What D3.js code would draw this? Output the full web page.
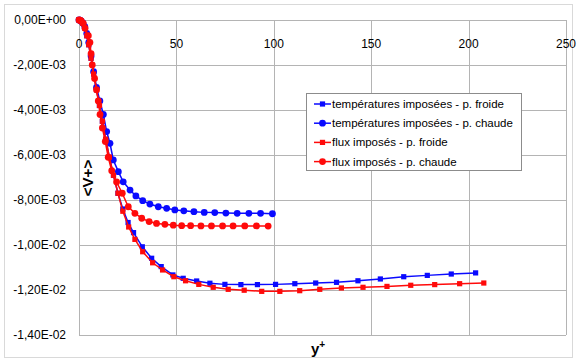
<!DOCTYPE html>
<html>
<head>
<meta charset="utf-8">
<script src="https://cdn.jsdelivr.net/npm/d3@7"></script>
<style>
  html, body { margin: 0; padding: 0; background: #fff; }
  svg { display: block; font-family: "Liberation Sans", Arial, sans-serif; }
</style>
</head>
<body>
<svg id="chart" width="577" height="361"></svg>
<script>
// Mean wall-normal velocity profiles <V+> versus y+
const xTicks = [0, 50, 100, 150, 200, 250];
const yTicks = [0, -0.002, -0.004, -0.006, -0.008, -0.010, -0.012, -0.014];
const yTickLabels = ["0,00E+00", "-2,00E-03", "-4,00E-03", "-6,00E-03", "-8,00E-03", "-1,00E-02", "-1,20E-02", "-1,40E-02"];

const seriesNames = [
  "températures imposées - p. froide",
  "températures imposées - p. chaude",
  "flux imposés - p. froide",
  "flux imposés - p. chaude"
];
const seriesColors = ["#0a0aff", "#0a0aff", "#ff0a0a", "#ff0a0a"];
const seriesMarkers = ["square", "circle", "square", "circle"];

// températures imposées - p. froide
const tempFroideY = [0, 0.5, 1.2, 2, 3, 4, 5, 6.2, 7.5, 9, 10.5, 12, 13.7, 15.6, 17.7, 20, 22.5, 25.2, 28,
  32.5, 37.3, 42.2, 48.2, 53.5, 60.4, 67.2, 74.9, 83.1, 91.6, 100.9, 110.8, 121.5, 132.2, 143.2, 154.7,
  166.7, 178.8, 191.1, 203.6];
const tempFroideV = [0, -0.00001, -0.00005, -0.00015, -0.00035, -0.0007, -0.0011, -0.0017, -0.0024, -0.0031,
  -0.0038, -0.0045, -0.0053, -0.0061, -0.0069, -0.0077, -0.0084, -0.0090, -0.00945,
  -0.01008, -0.01059, -0.01096, -0.01133, -0.01148, -0.0116, -0.0117, -0.01175, -0.01176, -0.01176, -0.01175,
  -0.01172, -0.01169, -0.01166, -0.01159, -0.01151, -0.01141, -0.01135, -0.01129, -0.01124];

// températures imposées - p. chaude
const tempChaudeY = [0, 0.5, 1.2, 2, 3, 4, 5, 6.2, 7.5, 9, 10.7, 12.5, 14.2, 15.9, 17.6, 20.2, 22.7, 26.2, 29.2,
  32.7, 36.4, 40.7, 45, 49.2, 53.8, 59, 64.3, 69.7, 75.4, 81.2, 87.2, 93.2, 99.3];
const tempChaudeV = [0, -0.00001, -0.00005, -0.00014, -0.0003, -0.0006, -0.001, -0.0016, -0.0023, -0.003,
  -0.0036, -0.0042, -0.00496, -0.00548, -0.00622, -0.00674, -0.00719, -0.00756, -0.00782,
  -0.00803, -0.00818, -0.0083, -0.00837, -0.00844, -0.00848, -0.00852, -0.00855, -0.00856, -0.00858,
  -0.00859, -0.00859, -0.00859, -0.00861];

// flux imposés - p. froide
const fluxFroideY = [0, 0.5, 1.2, 2, 3, 4, 5, 6.2, 7.5, 9, 10.5, 12, 13.7, 15.6, 17.7, 20, 22.5, 25.5, 28.7,
  32.7, 37.8, 42.9, 48.7, 54.7, 61.5, 68.9, 76.6, 84.8, 93.8, 103.1, 113.3, 123.6, 134.7, 145.8, 158.1,
  170.3, 182.6, 195.4, 207.8];
const fluxFroideV = [0, -0.00001, -0.00005, -0.00015, -0.00035, -0.0007, -0.0011, -0.0017, -0.0024, -0.0031,
  -0.0038, -0.0045, -0.0053, -0.0061, -0.0069, -0.0077, -0.0085, -0.0092, -0.00975,
  -0.0103, -0.01079, -0.01111, -0.01141, -0.01159, -0.01175, -0.01188, -0.01197, -0.01201, -0.01206,
  -0.01206, -0.01203, -0.01197, -0.01191, -0.01188, -0.01184, -0.01179, -0.01176, -0.01172, -0.01169];

// flux imposés - p. chaude
const fluxChaudeY = [0, 0.5, 1.2, 2.2, 3.1, 4.8, 5.6, 6.2, 6.8, 8, 9, 9.9, 10.8, 12, 13.5, 15, 16.8, 19.3, 22.2,
  25.3, 28.7, 32.2, 36, 39.8, 44.1, 48.4, 52.7, 57.3, 62.6, 68, 73.7, 79.1, 85.1, 91.1, 97.1];
const fluxChaudeV = [0, -0.00001, -0.00005, -0.00015, -0.00037, -0.0007, -0.001, -0.0015, -0.002, -0.0026,
  -0.0031, -0.0036, -0.0042, -0.0048, -0.0054, -0.0061, -0.0067, -0.0072, -0.0077,
  -0.0083, -0.00859, -0.00881, -0.00896, -0.00904, -0.00908, -0.00912, -0.00914, -0.00914, -0.00915,
  -0.00915, -0.00915, -0.00915, -0.00915, -0.00915, -0.00916];

const seriesY = [tempFroideY, tempChaudeY, fluxFroideY, fluxChaudeY];
const seriesV = [tempFroideV, tempChaudeV, fluxFroideV, fluxChaudeV];

const svg = d3.select("#chart");

// outer chart frame
svg.append("rect").attr("x", 4.5).attr("y", 4.5).attr("width", 568).attr("height", 353)
  .attr("fill", "#fff").attr("stroke", "#d9d9d9");

const plot = { left: 79, right: 566, top: 20, bottom: 335 };
const x = d3.scaleLinear().domain([0, 250]).range([plot.left, plot.right]);
const y = d3.scaleLinear().domain([0, -0.014]).range([plot.top, plot.bottom]);

const gridColor = "#b4b4b4";

// horizontal grid lines
svg.append("g").selectAll("line").data(yTicks).join("line")
  .attr("x1", plot.left).attr("x2", plot.right)
  .attr("y1", d => Math.round(y(d)) + 0.5).attr("y2", d => Math.round(y(d)) + 0.5)
  .attr("stroke", gridColor).attr("stroke-width", 1);

// vertical grid lines
svg.append("g").selectAll("line").data(xTicks).join("line")
  .attr("x1", d => Math.round(x(d)) + 0.5).attr("x2", d => Math.round(x(d)) + 0.5)
  .attr("y1", plot.top).attr("y2", plot.bottom)
  .attr("stroke", gridColor).attr("stroke-width", 1);

// y tick labels
svg.append("g").selectAll("text").data(yTicks).join("text")
  .attr("x", 66).attr("y", d => y(d)).attr("dy", "0.35em")
  .attr("text-anchor", "end").attr("font-size", 12).attr("fill", "#000")
  .text((d, i) => yTickLabels[i]);

// x tick labels, hung under the zero line
svg.append("g").selectAll("text").data(xTicks).join("text")
  .attr("x", d => x(d)).attr("y", 48)
  .attr("text-anchor", "middle").attr("font-size", 12).attr("fill", "#000")
  .text(d => d);

// axis titles
svg.append("text").attr("transform", "translate(93,178) rotate(-90)")
  .attr("text-anchor", "middle").attr("font-size", 15).attr("font-weight", "bold")
  .text("<V+>");

const xt = svg.append("text").attr("x", 318).attr("y", 354)
  .attr("text-anchor", "middle").attr("font-size", 15).attr("font-weight", "bold");
xt.append("tspan").text("y");
xt.append("tspan").attr("font-size", 10).attr("dy", -6).text("+");

// series
const line = d3.line().x(d => x(d[0])).y(d => y(d[1]));

function drawMarker(g, type, color, cx, cy) {
  if (type === "square") {
    g.append("rect").attr("x", cx - 2.6).attr("y", cy - 2.6).attr("width", 5.2).attr("height", 5.2)
      .attr("fill", color);
  } else {
    g.append("circle").attr("cx", cx).attr("cy", cy).attr("r", 3.4).attr("fill", color);
  }
}

const order = [1, 0, 3, 2];
order.forEach(i => {
  const pts = seriesY[i].map((v, k) => [v, seriesV[i][k]]);
  const g = svg.append("g");
  g.append("path").attr("d", line(pts)).attr("fill", "none")
    .attr("stroke", seriesColors[i]).attr("stroke-width", 1.5);
  pts.forEach(p => drawMarker(g, seriesMarkers[i], seriesColors[i], x(p[0]), y(p[1])));
});

// legend
const lg = svg.append("g");
lg.append("rect").attr("x", 306.5).attr("y", 93.5).attr("width", 215).attr("height", 77)
  .attr("fill", "#fff").attr("stroke", "#8c8c8c");
seriesNames.forEach((name, i) => {
  const cy = 104 + i * 19.2;
  lg.append("line").attr("x1", 314).attr("x2", 331).attr("y1", cy).attr("y2", cy)
    .attr("stroke", seriesColors[i]).attr("stroke-width", 1.5);
  drawMarker(lg, seriesMarkers[i], seriesColors[i], 322.5, cy);
  lg.append("text").attr("x", 332).attr("y", cy).attr("dy", "0.35em")
    .attr("font-size", 11.5).attr("fill", "#000").text(name);
});
</script>
</body>
</html>
